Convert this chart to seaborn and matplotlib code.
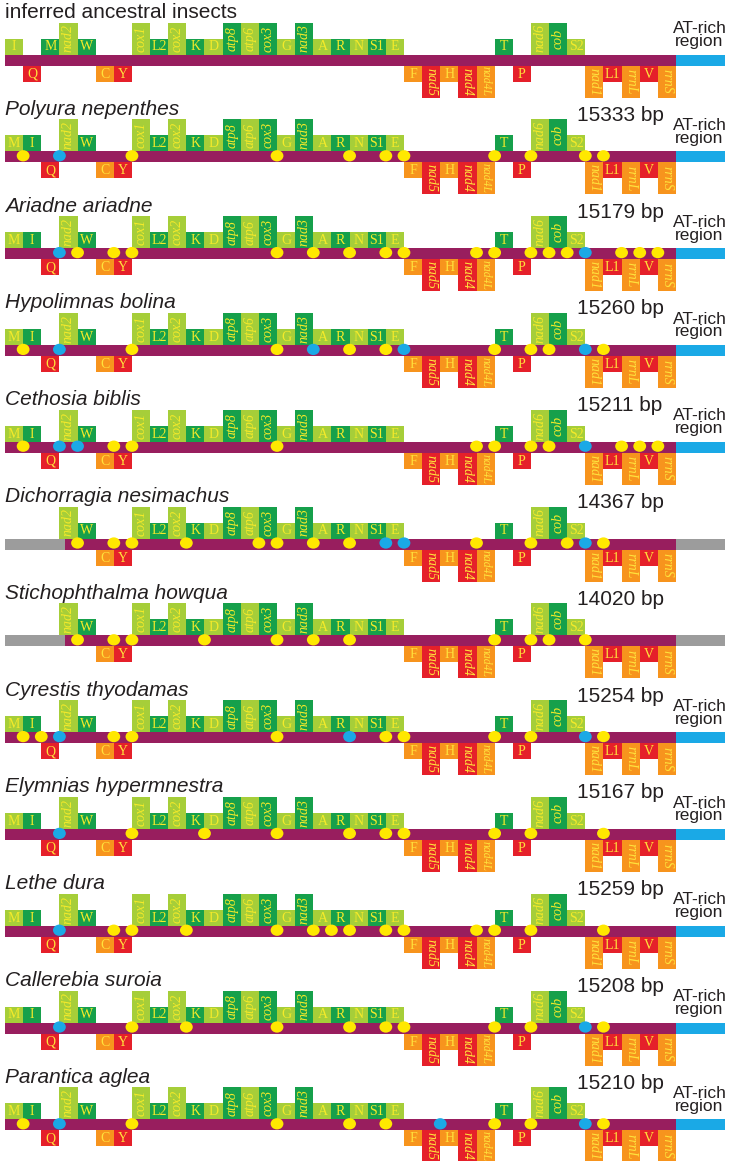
import matplotlib
matplotlib.use("Agg")
import matplotlib.pyplot as plt
from matplotlib.path import Path
import numpy as np
import pandas as pd
import seaborn as sns

# ---- data ----
species = ["inferred ancestral insects", "Polyura nepenthes", "Ariadne ariadne", "Hypolimnas bolina",
           "Cethosia biblis", "Dichorragia nesimachus", "Stichophthalma howqua", "Cyrestis thyodamas",
           "Elymnias hypermnestra", "Lethe dura", "Callerebia suroia", "Parantica aglea"]
genome_bp = [None, 15333, 15179, 15260, 15211, 14367, 14020, 15254, 15167, 15259, 15208, 15210]
has_at_region = [True, True, True, True, True, False, False, True, True, True, True, True]
partial_start = [False, False, False, False, False, True, True, False, False, False, False, False]

ancestral_order = ["I", "Q", "M", "nad2", "W", "C", "Y", "cox1", "L2", "cox2", "K", "D", "atp8", "atp6",
                   "cox3", "G", "nad3", "A", "R", "N", "S1", "E", "F", "nad5", "H", "nad4", "nad4L", "T",
                   "P", "nad6", "cob", "S2", "nad1", "L1", "rrnL", "V", "rrnS"]
butterfly_order = ["M", "I", "Q"] + ancestral_order[3:]
missing_genes = ["M", "I", "Q"]

lower_strand = ["Q", "C", "Y", "F", "nad5", "H", "nad4", "nad4L", "P", "nad1", "L1", "rrnL", "V", "rrnS"]
long_genes = ["nad2", "cox1", "cox2", "atp8", "atp6", "cox3", "nad3", "nad5", "nad4", "nad4L",
              "nad6", "cob", "nad1", "rrnL", "rrnS"]

# junction index (gene boundary) of the yellow / blue dots in each genome
yellow_dots = [
    [],
    [1, 7, 15, 19, 21, 22, 27, 29, 32, 33],
    [4, 6, 7, 15, 17, 19, 21, 22, 26, 27, 29, 30, 31, 34, 35, 36],
    [1, 7, 15, 19, 21, 27, 29, 30, 33],
    [1, 6, 7, 15, 26, 27, 29, 30, 34, 35, 36],
    [4, 6, 7, 10, 14, 15, 17, 19, 26, 29, 31, 33],
    [4, 6, 7, 11, 15, 17, 19, 27, 29, 30, 32],
    [1, 2, 6, 7, 15, 21, 22, 27, 29, 33],
    [7, 11, 15, 19, 21, 22, 27, 29, 33],
    [6, 7, 10, 15, 17, 18, 19, 21, 22, 26, 27, 29, 33],
    [7, 10, 15, 19, 21, 22, 27, 29, 33],
    [1, 7, 15, 19, 21, 27, 29, 33],
]
blue_dots = [
    [],
    [3],
    [3, 32],
    [3, 17, 22, 32],
    [3, 4, 32],
    [21, 22, 32],
    [],
    [3, 19, 32],
    [3],
    [3],
    [3, 32],
    [3, 24, 32],
]

# ---- layout / style ----
X0, SLOT = 5.0, 18.135
ROW_Y0, ROW_STEP = 60.0, 96.8
BAR_H, SHORT_H, TALL_H = 11.0, 16.0, 32.0
AT_W = 49.0

LIGHT_GREEN = "#A6CE39"
DARK_GREEN = "#16A04B"
RED = "#E5202A"
ORANGE = "#F7941D"
PURPLE = "#981E5E"
BLUE = "#1AA9E6"
YELLOW = "#FFE800"
GREY = "#9C9C9C"
TEXT = "#231F20"

sns.set_theme(style="white")
plt.rcParams["font.family"] = ["Liberation Sans", "DejaVu Sans"]

fig = plt.figure(figsize=(7.33, 11.61), dpi=100)
ax = fig.add_axes([0, 0, 1, 1])

dots = []
for r, name in enumerate(species):
    cy = ROW_Y0 + r * ROW_STEP
    order = ancestral_order if r == 0 else butterfly_order
    skip = missing_genes if partial_start[r] else []
    end = X0 + len(order) * SLOT

    # backbone
    if skip:
        cut = X0 + 3.33 * SLOT
        ax.barh(cy, cut - X0, left=X0, height=BAR_H, color=GREY, linewidth=0, zorder=1)
        ax.barh(cy, end - cut, left=cut, height=BAR_H, color=PURPLE, linewidth=0, zorder=1)
    else:
        ax.barh(cy, end - X0, left=X0, height=BAR_H, color=PURPLE, linewidth=0, zorder=1)
    ax.barh(cy, AT_W, left=end, height=BAR_H, color=BLUE if has_at_region[r] else GREY,
            linewidth=0, zorder=1)

    # genes
    n_up, n_low = 0, 0
    for i, g in enumerate(order):
        low = g in lower_strand
        tall = g in long_genes
        if low:
            colour = RED if n_low % 2 == 0 else ORANGE
            n_low += 1
        else:
            colour = LIGHT_GREEN if n_up % 2 == 0 else DARK_GREEN
            n_up += 1
        if g in skip:
            continue
        h = TALL_H if tall else SHORT_H
        top = cy + BAR_H / 2 if low else cy - BAR_H / 2 - h
        x = X0 + i * SLOT
        ax.bar(x, h, width=SLOT, bottom=top, align="edge", color=colour, linewidth=0, zorder=2)
        tcol = "#FFE23C" if low else "#F4EA2A"
        if tall:
            ax.text(x + SLOT / 2, top + h / 2, g, rotation=-90 if low else 90, ha="center",
                    va="center", fontsize=8.5 if len(g) > 4 else 10, family="Liberation Serif",
                    style="italic", color=tcol, zorder=4)
        else:
            ax.text(x + SLOT / 2, top + h / 2 + 0.5, g, ha="center", va="center", fontsize=10,
                    family="Liberation Serif", color=tcol, zorder=4)

    # labels
    ax.text(X0, cy - 42, name, fontsize=15, color=TEXT, va="baseline", ha="left",
            style="normal" if r == 0 else "italic")
    if genome_bp[r] is not None:
        ax.text(577, cy - 36, f"{genome_bp[r]} bp", fontsize=15, color=TEXT, va="baseline", ha="left")
    if has_at_region[r]:
        ax.text(end + AT_W / 2 - 1, cy - 14, "AT-rich\nregion", fontsize=12.5, color=TEXT,
                ha="center", va="baseline", linespacing=0.82, multialignment="center")

    for k in yellow_dots[r]:
        dots.append({"x": X0 + k * SLOT, "y": cy - 1, "kind": "yellow"})
    for k in blue_dots[r]:
        dots.append({"x": X0 + k * SLOT, "y": cy - 1, "kind": "blue"})

dot_df = pd.DataFrame(dots)
circle = Path.unit_circle()
oval = Path(circle.vertices * np.array([1.0, 0.88]), circle.codes)
sns.scatterplot(data=dot_df, x="x", y="y", hue="kind", palette={"yellow": YELLOW, "blue": BLUE},
                marker=oval, s=85, linewidth=0, edgecolor="none", legend=False, ax=ax, zorder=3)
ax.set_xlim(0, 733)
ax.set_ylim(1161, 0)
ax.axis("off")

fig.savefig("out.png", dpi=100)
